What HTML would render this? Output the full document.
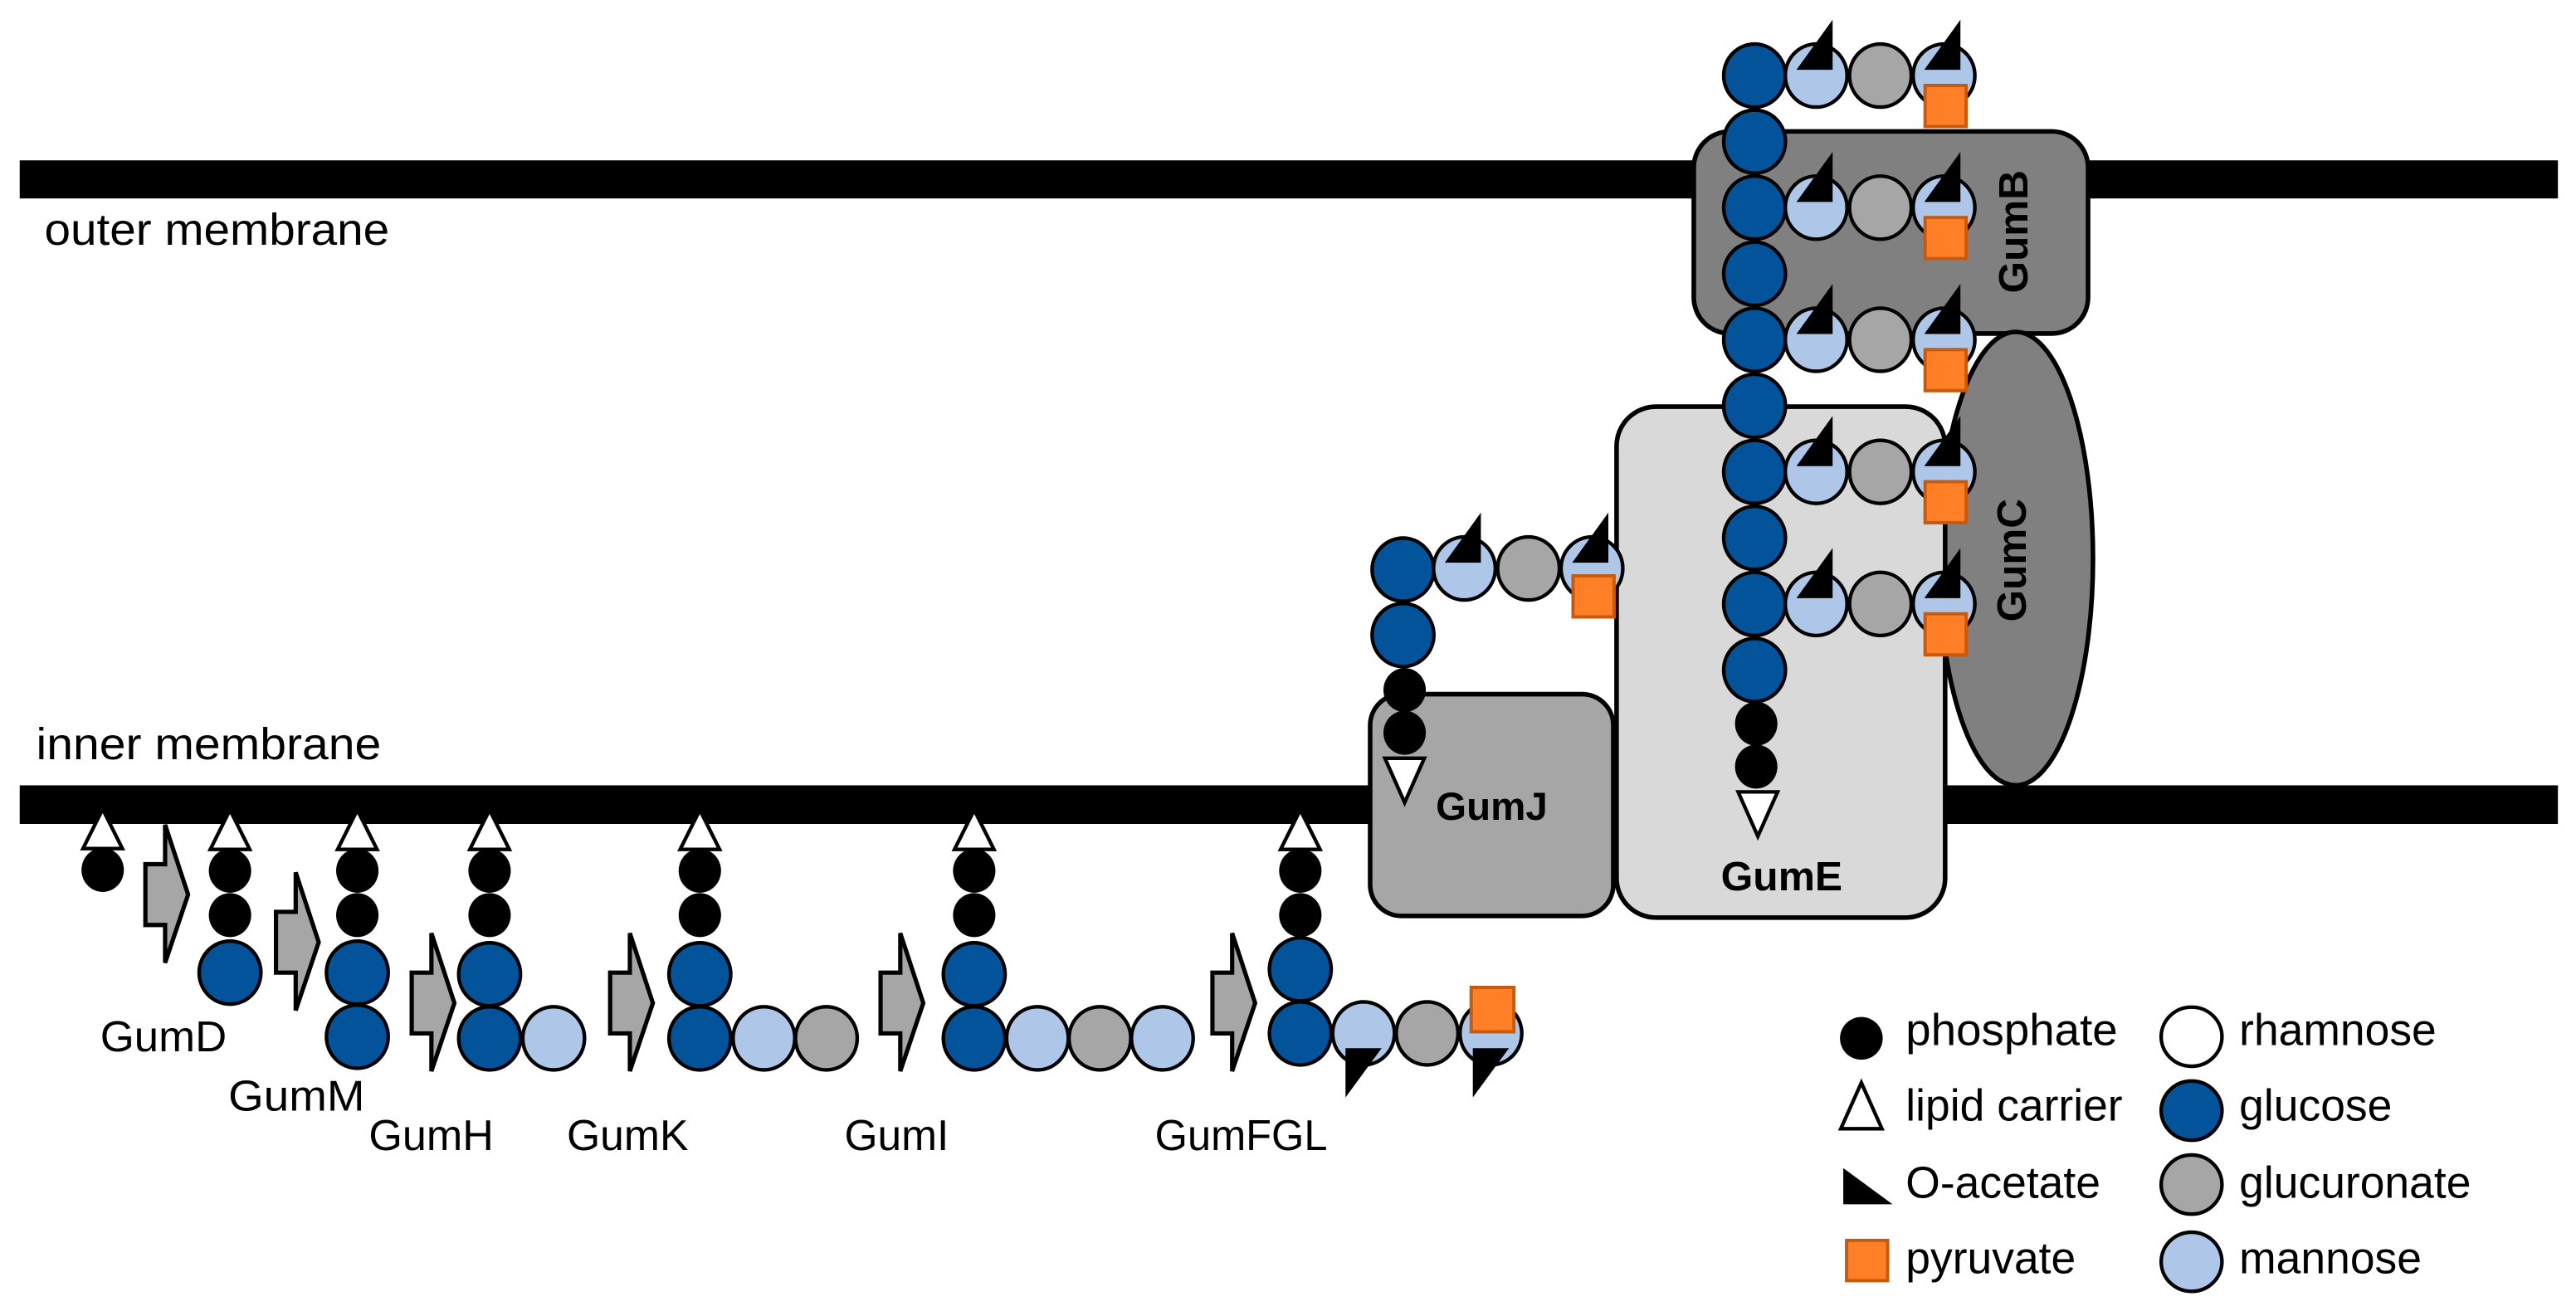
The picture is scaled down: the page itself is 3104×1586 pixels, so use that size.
<!DOCTYPE html>
<html><head><meta charset="utf-8"><style>
html,body{margin:0;padding:0;background:#fff;}
svg{display:block;}
text{font-family:"Liberation Sans",sans-serif;fill:#000;}
.g{fill:#02539a;stroke:#000;stroke-width:2.2}
.m{fill:#aec7e8;stroke:#000;stroke-width:2.2}
.u{fill:#a6a6a6;stroke:#000;stroke-width:2.2}
.w{fill:#fff;stroke:#000;stroke-width:2.2}
.p{fill:#000}
.t{fill:#fff;stroke:#000;stroke-width:2.2}
.o{fill:#ff7f27;stroke:#c55a11;stroke-width:2}
.a{fill:#000}
.ar{fill:#a6a6a6;stroke:#000;stroke-width:2.6;stroke-linejoin:miter}
</style></head><body>
<svg width="3104" height="1586" viewBox="0 0 1568 801" preserveAspectRatio="none" xmlns="http://www.w3.org/2000/svg">
<defs>
<ellipse id="G" class="g" rx="18.8" ry="19.2"/>
<ellipse id="M" class="m" rx="18.8" ry="19.2"/>
<ellipse id="U" class="u" rx="18.8" ry="19.2"/>
<ellipse id="P" class="p" rx="12.9" ry="13.4"/>
<polygon id="TU" class="t" points="0,-37 -12,-13 12,-13"/>
<polygon id="AT" class="a" points="10,-34 -12,-3.5 10,-3.5"/>
<polygon id="AB" class="a" points="-11,9 11,9 -11,39"/>
<polygon id="AR" class="ar" points="-12,24 0,24 0,0 14,42.5 0,84 0,61 -12,61"/>
<rect id="PT" class="o" x="-11.5" y="6" width="25" height="25"/>
<rect id="PB" class="o" x="-12" y="-28" width="26" height="27"/>
<polygon id="TD" class="t" points="0,27 -12,0 12,0"/>
</defs>

<!-- membranes -->
<rect x="12" y="97.6" width="1545" height="23.2" fill="#000"/>
<rect x="12" y="478" width="1545" height="23.5" fill="#000"/>
<text x="27" y="149" font-size="27" textLength="210" lengthAdjust="spacingAndGlyphs">outer membrane</text>
<text x="22" y="462" font-size="27" textLength="210" lengthAdjust="spacingAndGlyphs">inner membrane</text>

<!-- proteins -->
<rect x="1031" y="80" width="240" height="123" rx="22" fill="#808080" stroke="#000" stroke-width="2.8"/>
<ellipse cx="1227" cy="340" rx="47" ry="138" fill="#808080" stroke="#000" stroke-width="2.8"/>
<rect x="984" y="247.5" width="200" height="311" rx="24" fill="#d9d9d9" stroke="#000" stroke-width="2.8"/>
<rect x="834" y="422.5" width="148" height="135" rx="19" fill="#a6a6a6" stroke="#000" stroke-width="2.8"/>
<text x="874" y="499" font-size="24" font-weight="bold" textLength="68" lengthAdjust="spacingAndGlyphs">GumJ</text>
<text x="1047.5" y="542" font-size="25" font-weight="bold" textLength="74" lengthAdjust="spacingAndGlyphs">GumE</text>
<text transform="translate(1234,141) rotate(-90)" text-anchor="middle" font-size="25" font-weight="bold">GumB</text>
<text transform="translate(1233,341) rotate(-90)" text-anchor="middle" font-size="25" font-weight="bold">GumC</text>

<!-- vertical chain in GumE/GumB -->
<use href="#G" x="1068" y="46"/>
<use href="#G" x="1068" y="86.2"/>
<use href="#G" x="1068" y="126.4"/>
<use href="#G" x="1068" y="166.6"/>
<use href="#G" x="1068" y="206.8"/>
<use href="#G" x="1068" y="247"/>
<use href="#G" x="1068" y="287.2"/>
<use href="#G" x="1068" y="327.4"/>
<use href="#G" x="1068" y="367.6"/>
<use href="#G" x="1068" y="407.8"/>
<use href="#P" x="1069" y="440.5"/>
<use href="#P" x="1069" y="466.6"/>
<use href="#TD" x="1070" y="482"/>

<!-- branches -->
<g>
<use href="#M" x="1105.5" y="46"/><use href="#U" x="1144.6" y="46"/><use href="#M" x="1183.3" y="46"/>
<use href="#AT" x="1105.5" y="46"/><use href="#AT" x="1183.3" y="46"/><use href="#PT" x="1183.3" y="46"/>
<use href="#M" x="1105.5" y="126.4"/><use href="#U" x="1144.6" y="126.4"/><use href="#M" x="1183.3" y="126.4"/>
<use href="#AT" x="1105.5" y="126.4"/><use href="#AT" x="1183.3" y="126.4"/><use href="#PT" x="1183.3" y="126.4"/>
<use href="#M" x="1105.5" y="206.8"/><use href="#U" x="1144.6" y="206.8"/><use href="#M" x="1183.3" y="206.8"/>
<use href="#AT" x="1105.5" y="206.8"/><use href="#AT" x="1183.3" y="206.8"/><use href="#PT" x="1183.3" y="206.8"/>
<use href="#M" x="1105.5" y="287.2"/><use href="#U" x="1144.6" y="287.2"/><use href="#M" x="1183.3" y="287.2"/>
<use href="#AT" x="1105.5" y="287.2"/><use href="#AT" x="1183.3" y="287.2"/><use href="#PT" x="1183.3" y="287.2"/>
<use href="#M" x="1105.5" y="367.6"/><use href="#U" x="1144.6" y="367.6"/><use href="#M" x="1183.3" y="367.6"/>
<use href="#AT" x="1105.5" y="367.6"/><use href="#AT" x="1183.3" y="367.6"/><use href="#PT" x="1183.3" y="367.6"/>
</g>

<!-- GumJ chain -->
<use href="#G" x="854" y="346.7"/>
<use href="#G" x="854" y="386.5"/>
<use href="#P" x="855" y="420"/>
<use href="#P" x="855" y="446"/>
<use href="#TD" x="855" y="461.5"/>
<use href="#M" x="891.4" y="346"/><use href="#U" x="930.4" y="346"/><use href="#M" x="969" y="346"/>
<use href="#AT" x="891.4" y="346"/><use href="#AT" x="969" y="346"/><use href="#PT" x="969" y="344.5"/>

<!-- bottom steps -->
<use href="#P" x="62.5" y="529.5"/><use href="#TU" x="62.5" y="529.5"/>
<use href="#AR" x="100.5" y="502"/>

<use href="#P" x="140" y="530"/><use href="#P" x="140" y="557"/><use href="#TU" x="140" y="530"/>
<use href="#G" x="140" y="592"/>
<use href="#AR" x="180" y="531"/>

<use href="#P" x="217.5" y="530"/><use href="#P" x="217.5" y="557"/><use href="#TU" x="217.5" y="530"/>
<use href="#G" x="217.5" y="592"/><use href="#G" x="217.5" y="631"/>
<use href="#AR" x="262.6" y="568"/>

<use href="#P" x="298" y="530"/><use href="#P" x="298" y="557"/><use href="#TU" x="298" y="530"/>
<use href="#G" x="298" y="593"/><use href="#G" x="298" y="632"/><use href="#M" x="337" y="632"/>
<use href="#AR" x="383.4" y="568"/>

<use href="#P" x="426" y="530"/><use href="#P" x="426" y="557"/><use href="#TU" x="426" y="530"/>
<use href="#G" x="426" y="593"/><use href="#G" x="426" y="632"/><use href="#M" x="465" y="632"/><use href="#U" x="503" y="632"/>
<use href="#AR" x="548" y="568"/>

<use href="#P" x="593" y="530"/><use href="#P" x="593" y="557"/><use href="#TU" x="593" y="530"/>
<use href="#G" x="593" y="593"/><use href="#G" x="593" y="632"/><use href="#M" x="631.5" y="632"/><use href="#U" x="669.5" y="632"/><use href="#M" x="707.5" y="632"/>
<use href="#AR" x="750" y="568"/>

<use href="#P" x="791.5" y="530"/><use href="#P" x="791.5" y="557"/><use href="#TU" x="791.5" y="530"/>
<use href="#G" x="791.5" y="590"/><use href="#G" x="791.5" y="629"/><use href="#M" x="830" y="629"/><use href="#U" x="868.7" y="629"/><use href="#M" x="907.5" y="629"/>
<use href="#AB" x="830" y="629"/><use href="#AB" x="907.5" y="629"/><use href="#PB" x="907.5" y="629"/>

<g font-size="26">
<text x="61" y="640" textLength="77" lengthAdjust="spacingAndGlyphs">GumD</text>
<text x="139" y="676" textLength="83" lengthAdjust="spacingAndGlyphs">GumM</text>
<text x="224.5" y="700" textLength="76" lengthAdjust="spacingAndGlyphs">GumH</text>
<text x="345" y="700" textLength="74" lengthAdjust="spacingAndGlyphs">GumK</text>
<text x="514" y="700">GumI</text>
<text x="703" y="700" textLength="105" lengthAdjust="spacingAndGlyphs">GumFGL</text>
</g>

<!-- legend -->
<circle cx="1133" cy="632" r="13" fill="#000"/>
<polygon points="1133,659 1120.5,687 1145.5,687" class="t"/>
<polygon points="1122,711 1122,733 1152,733" fill="#000"/>
<rect x="1124" y="755" width="25" height="24.5" class="o"/>
<ellipse cx="1334" cy="631" rx="18.5" ry="18" class="w"/>
<ellipse cx="1334" cy="676" rx="18.5" ry="18" class="g"/>
<ellipse cx="1334" cy="721" rx="18.5" ry="18" class="u"/>
<ellipse cx="1334" cy="768" rx="18.5" ry="18" class="m"/>
<g font-size="27">
<text x="1160" y="636" textLength="129" lengthAdjust="spacingAndGlyphs">phosphate</text>
<text x="1160" y="682">lipid carrier</text>
<text x="1160" y="729">O-acetate</text>
<text x="1160" y="775">pyruvate</text>
<text x="1363" y="636">rhamnose</text>
<text x="1363" y="682">glucose</text>
<text x="1363" y="729">glucuronate</text>
<text x="1363" y="775">mannose</text>
</g>
</svg>
</body></html>
